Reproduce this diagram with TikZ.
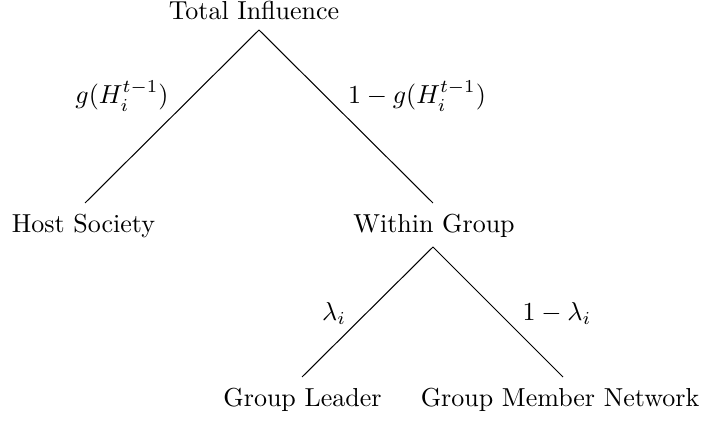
\documentclass[tikz,border=0pt]{standalone}
\begin{document}
\begin{tikzpicture}[x=0.3846pt,y=-0.3846pt,
  lbl/.style={anchor=base,inner sep=0pt,font=\fontsize{10}{12}\selectfont},
  edge/.style={line width=0.4pt}]
\useasboundingbox (0,0) rectangle (711,421);
\node[lbl] (top) at (254,20) {Total Influence};
\node[lbl] (host) at (83.5,233) {Host Society};
\node[lbl] (within) at (434,233) {Within Group};
\node[lbl] (leader) at (302.5,407) {Group Leader};
\node[lbl] (gmn) at (560,407) {Group Member Network};
\coordinate (a1) at (259,30);
\coordinate (h1) at (85,203);
\coordinate (w1) at (433,203);
\coordinate (a2) at (433,247);
\coordinate (l1) at (302,377);
\coordinate (m1) at (563,377);
\draw[edge] (a1) -- (h1);
\draw[edge] (a1) -- (w1);
\draw[edge] (a2) -- (l1);
\draw[edge] (a2) -- (m1);
\node[lbl] (g1) at (122,104) {$g(H_i^{t-1})$};
\node[lbl] (g2) at (417,104) {$1-g(H_i^{t-1})$};
\node[lbl] (l2) at (334,321) {$\lambda_i$};
\node[lbl] (l3) at (557,321) {$1-\lambda_i$};
\end{tikzpicture}
\end{document}
